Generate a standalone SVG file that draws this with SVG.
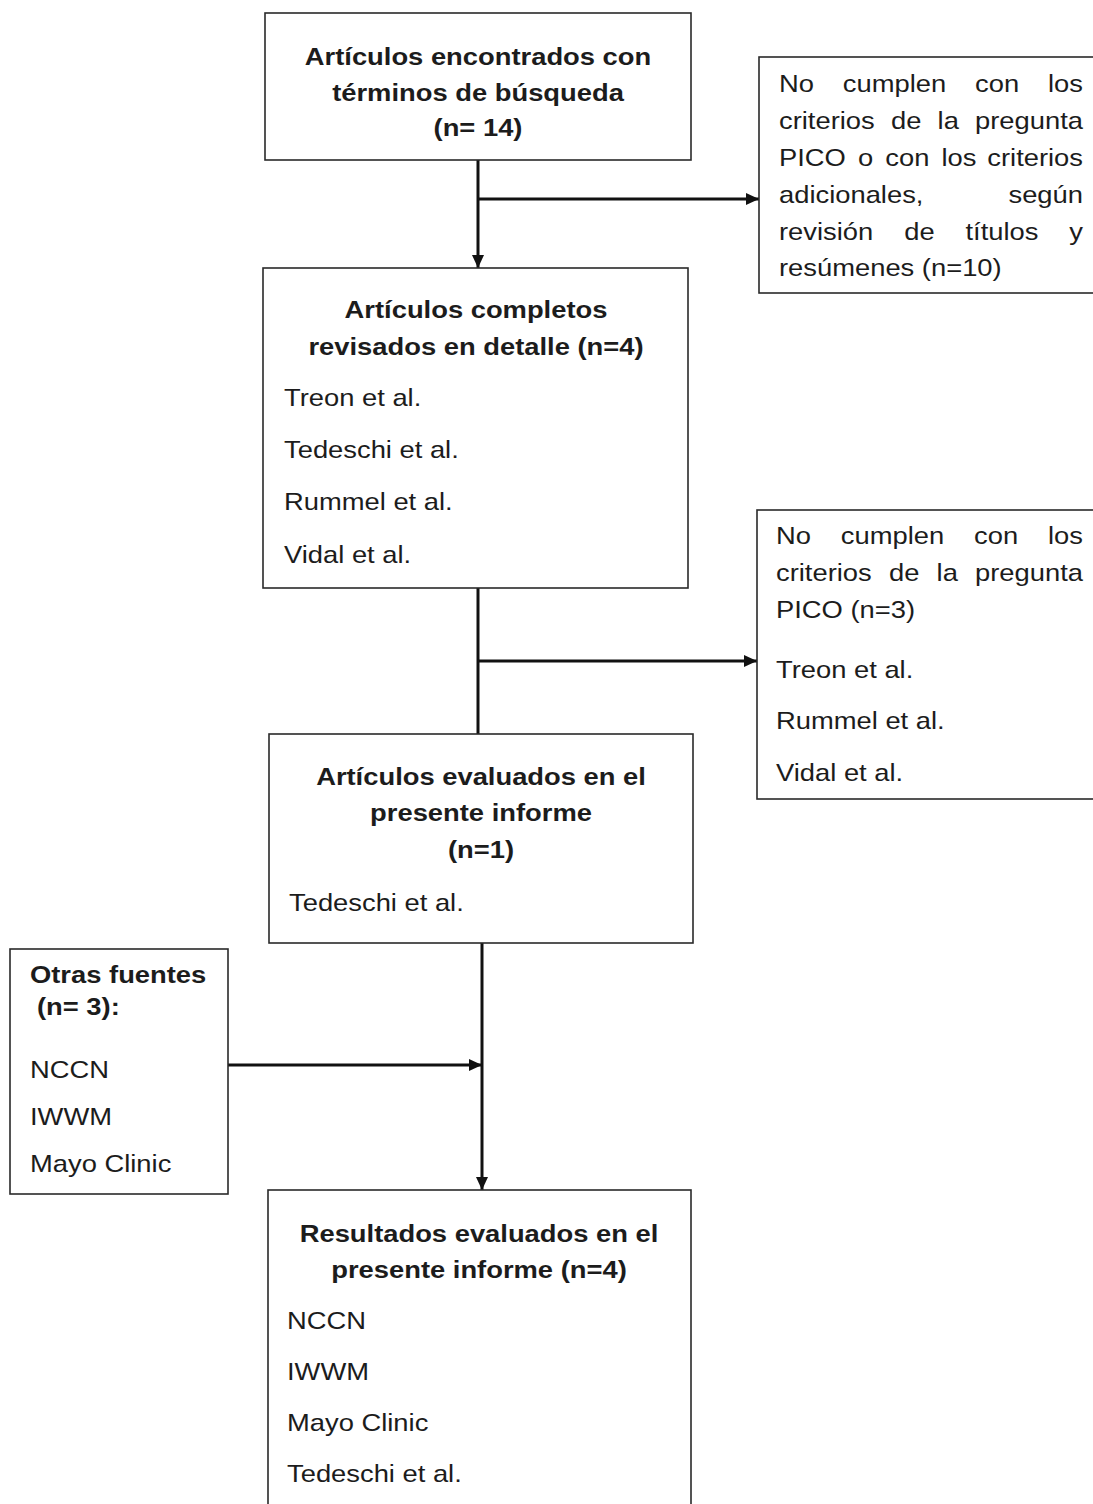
<svg xmlns="http://www.w3.org/2000/svg" width="1093" height="1504" viewBox="0 0 1093 1504">
<style>
.box{fill:#fff;stroke:#2a2a2a;stroke-width:1.6}
.t{font-family:"Liberation Sans",Arial,sans-serif;font-size:24px;fill:#1c1c1c}
.b{font-weight:bold}
.m{text-anchor:middle}
.e{text-anchor:end}
.c{stroke:#111;stroke-width:3;fill:none}
</style>
<defs>
<marker id="ah" viewBox="0 0 13 12" refX="13" refY="6" markerWidth="13" markerHeight="12" markerUnits="userSpaceOnUse" orient="auto">
<path d="M0,0 L13,6 L0,12 Z" fill="#111"/>
</marker>
</defs>
<rect width="1093" height="1504" fill="#fff"/>

<g id="connectors">
<line class="c" x1="478" y1="160" x2="478" y2="268" marker-end="url(#ah)"/>
<line class="c" x1="478" y1="199" x2="759" y2="199" marker-end="url(#ah)"/>
<line class="c" x1="478" y1="588" x2="478" y2="734"/>
<line class="c" x1="478" y1="661" x2="757" y2="661" marker-end="url(#ah)"/>
<line class="c" x1="482" y1="943" x2="482" y2="1190" marker-end="url(#ah)"/>
<line class="c" x1="228" y1="1065" x2="482" y2="1065" marker-end="url(#ah)"/>
</g>

<g id="n1">
<rect class="box" x="265" y="13" width="426" height="147"/>
<text class="t b m" transform="translate(478,65) scale(1.14,1)">Artículos encontrados con</text>
<text class="t b m" transform="translate(478,101) scale(1.14,1)">términos de búsqueda</text>
<text class="t b m" transform="translate(478,136) scale(1.14,1)">(n= 14)</text>
</g>

<g id="n2">
<rect class="box" x="759" y="57" width="340" height="236"/>
<text class="t" transform="translate(779,92) scale(1.14,1)">No</text>
<text class="t" transform="translate(842.8,92) scale(1.14,1)">cumplen</text>
<text class="t" transform="translate(975,92) scale(1.14,1)">con</text>
<text class="t e" transform="translate(1083,92) scale(1.14,1)">los</text>
<text class="t" transform="translate(779,129) scale(1.14,1)">criterios</text>
<text class="t" transform="translate(891,129) scale(1.14,1)">de</text>
<text class="t" transform="translate(937.6,129) scale(1.14,1)">la</text>
<text class="t e" transform="translate(1083,129) scale(1.14,1)">pregunta</text>
<text class="t" transform="translate(779,166) scale(1.14,1)">PICO</text>
<text class="t" transform="translate(858,166) scale(1.14,1)">o</text>
<text class="t" transform="translate(885.3,166) scale(1.14,1)">con</text>
<text class="t" transform="translate(941.5,166) scale(1.14,1)">los</text>
<text class="t e" transform="translate(1083,166) scale(1.14,1)">criterios</text>
<text class="t" transform="translate(779,203) scale(1.14,1)">adicionales,</text>
<text class="t e" transform="translate(1083,203) scale(1.14,1)">según</text>
<text class="t" transform="translate(779,240) scale(1.14,1)">revisión</text>
<text class="t" transform="translate(904.2,240) scale(1.14,1)">de</text>
<text class="t" transform="translate(965.5,240) scale(1.14,1)">títulos</text>
<text class="t e" transform="translate(1083,240) scale(1.14,1)">y</text>
<text class="t" transform="translate(779,276) scale(1.14,1)">resúmenes (n=10)</text>
</g>

<g id="n3">
<rect class="box" x="263" y="268" width="425" height="320"/>
<text class="t b m" transform="translate(476,318) scale(1.14,1)">Artículos completos</text>
<text class="t b m" transform="translate(476,355) scale(1.14,1)">revisados en detalle (n=4)</text>
<text class="t" transform="translate(284,406) scale(1.14,1)">Treon et al.</text>
<text class="t" transform="translate(284,458) scale(1.14,1)">Tedeschi et al.</text>
<text class="t" transform="translate(284,510) scale(1.14,1)">Rummel et al.</text>
<text class="t" transform="translate(284,563) scale(1.14,1)">Vidal et al.</text>
</g>

<g id="n4">
<rect class="box" x="757" y="510" width="342" height="289"/>
<text class="t" transform="translate(776,544) scale(1.14,1)">No</text>
<text class="t" transform="translate(840.8,544) scale(1.14,1)">cumplen</text>
<text class="t" transform="translate(974,544) scale(1.14,1)">con</text>
<text class="t e" transform="translate(1083,544) scale(1.14,1)">los</text>
<text class="t" transform="translate(776,581) scale(1.14,1)">criterios</text>
<text class="t" transform="translate(889,581) scale(1.14,1)">de</text>
<text class="t" transform="translate(936.6,581) scale(1.14,1)">la</text>
<text class="t e" transform="translate(1083,581) scale(1.14,1)">pregunta</text>
<text class="t" transform="translate(776,618) scale(1.14,1)">PICO (n=3)</text>
<text class="t" transform="translate(776,678) scale(1.14,1)">Treon et al.</text>
<text class="t" transform="translate(776,729) scale(1.14,1)">Rummel et al.</text>
<text class="t" transform="translate(776,781) scale(1.14,1)">Vidal et al.</text>
</g>

<g id="n5">
<rect class="box" x="269" y="734" width="424" height="209"/>
<text class="t b m" transform="translate(481,785) scale(1.14,1)">Artículos evaluados en el</text>
<text class="t b m" transform="translate(481,821) scale(1.14,1)">presente informe</text>
<text class="t b m" transform="translate(481,858) scale(1.14,1)">(n=1)</text>
<text class="t" transform="translate(289,911) scale(1.14,1)">Tedeschi et al.</text>
</g>

<g id="n6">
<rect class="box" x="10" y="949" width="218" height="245"/>
<text class="t b" transform="translate(30,983) scale(1.14,1)">Otras fuentes</text>
<text class="t b" transform="translate(37,1015) scale(1.14,1)">(n= 3):</text>
<text class="t" transform="translate(30,1078) scale(1.14,1)">NCCN</text>
<text class="t" transform="translate(30,1125) scale(1.14,1)">IWWM</text>
<text class="t" transform="translate(30,1172) scale(1.14,1)">Mayo Clinic</text>
</g>

<g id="n7">
<rect class="box" x="268" y="1190" width="423" height="330"/>
<text class="t b m" transform="translate(479,1242) scale(1.14,1)">Resultados evaluados en el</text>
<text class="t b m" transform="translate(479,1278) scale(1.14,1)">presente informe (n=4)</text>
<text class="t" transform="translate(287,1329) scale(1.14,1)">NCCN</text>
<text class="t" transform="translate(287,1380) scale(1.14,1)">IWWM</text>
<text class="t" transform="translate(287,1431) scale(1.14,1)">Mayo Clinic</text>
<text class="t" transform="translate(287,1482) scale(1.14,1)">Tedeschi et al.</text>
</g>
</svg>
